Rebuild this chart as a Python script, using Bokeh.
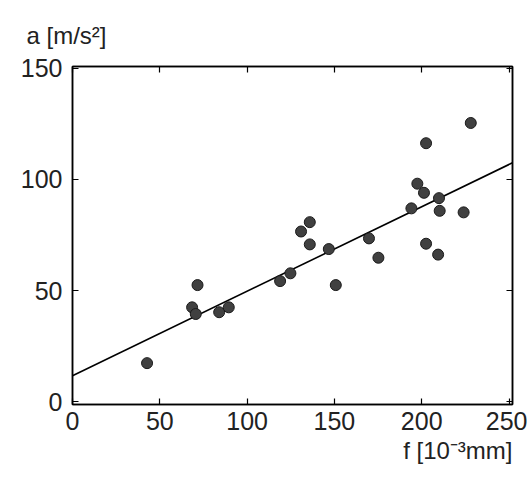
from bokeh.plotting import figure
from bokeh.models import Range1d, LinearAxis, Title, FixedTicker
from bokeh.embed import file_html
from bokeh.resources import INLINE

# data
f_vals = [42.7, 68.5, 70.6, 71.6, 84.0, 89.5, 118.9, 124.8, 130.9, 135.9, 135.9,
          146.8, 150.8, 169.8, 175.2, 194.1, 197.5, 201.3, 202.5, 202.5, 209.9,
          210.3, 209.4, 224.0, 228.1]
a_vals = [17.4, 42.5, 39.5, 52.5, 40.3, 42.5, 54.3, 57.8, 76.6, 80.8, 70.8,
          68.7, 52.5, 73.5, 64.8, 87.0, 98.1, 94.0, 116.3, 71.1, 91.6,
          85.9, 66.2, 85.2, 125.4]
fit_x = [0, 252]
fit_y = [11.7, 107.5]
x_ticks = [0, 50, 100, 150, 200, 250]
y_ticks = [0, 50, 100, 150]

FONT = "Liberation Sans"

p = figure(width=527, height=481, output_backend="svg", toolbar_location=None,
           x_range=Range1d(0, 252), y_range=Range1d(-1.2, 150.8),
           min_border_left=72, min_border_right=15, min_border_top=66,
           min_border_bottom=77)
p.background_fill_color = "white"
p.border_fill_color = "white"
p.outline_line_color = "black"
p.outline_line_width = 1.5
p.xgrid.visible = False
p.ygrid.visible = False

for ax in (p.xaxis[0], p.yaxis[0]):
    ax.major_tick_in = 6
    ax.major_tick_out = 0
    ax.minor_tick_line_color = None
    ax.axis_line_width = 1.5
    ax.major_tick_line_width = 1.2
    ax.major_label_text_font = FONT
    ax.major_label_text_font_size = "25px"
    ax.major_label_text_color = "#222222"
p.xaxis[0].ticker = FixedTicker(ticks=x_ticks)
p.yaxis[0].ticker = FixedTicker(ticks=y_ticks)
p.xaxis[0].major_label_standoff = 7
p.yaxis[0].major_label_standoff = 10

top = LinearAxis(ticker=FixedTicker(ticks=x_ticks), major_tick_in=6, major_tick_out=0,
                 minor_tick_line_color=None,
                 major_label_overrides={t: "" for t in x_ticks},
                 axis_line_width=1.5, major_tick_line_width=1.2)
right = LinearAxis(ticker=FixedTicker(ticks=y_ticks), major_tick_in=6, major_tick_out=0,
                   minor_tick_line_color=None,
                   major_label_overrides={t: "" for t in y_ticks},
                   axis_line_width=1.5, major_tick_line_width=1.2)
p.add_layout(top, "above")
p.add_layout(right, "right")

p.line(fit_x, fit_y, line_color="black", line_width=1.6)
p.scatter(f_vals, a_vals, size=11, fill_color="#404040", line_color="#1a1a1a",
          line_width=1)

p.add_layout(Title(text="a [m/s²]", align="left", offset=-46, text_font=FONT,
                   text_font_size="24px", text_font_style="normal",
                   text_color="#222222", standoff=36), "above")
p.add_layout(Title(text="f [10⁻³mm]", align="right", offset=0, text_font=FONT,
                   text_font_size="24px", text_font_style="normal",
                   text_color="#222222", standoff=5), "below")

open("out.html", "w").write(file_html(p, INLINE))
